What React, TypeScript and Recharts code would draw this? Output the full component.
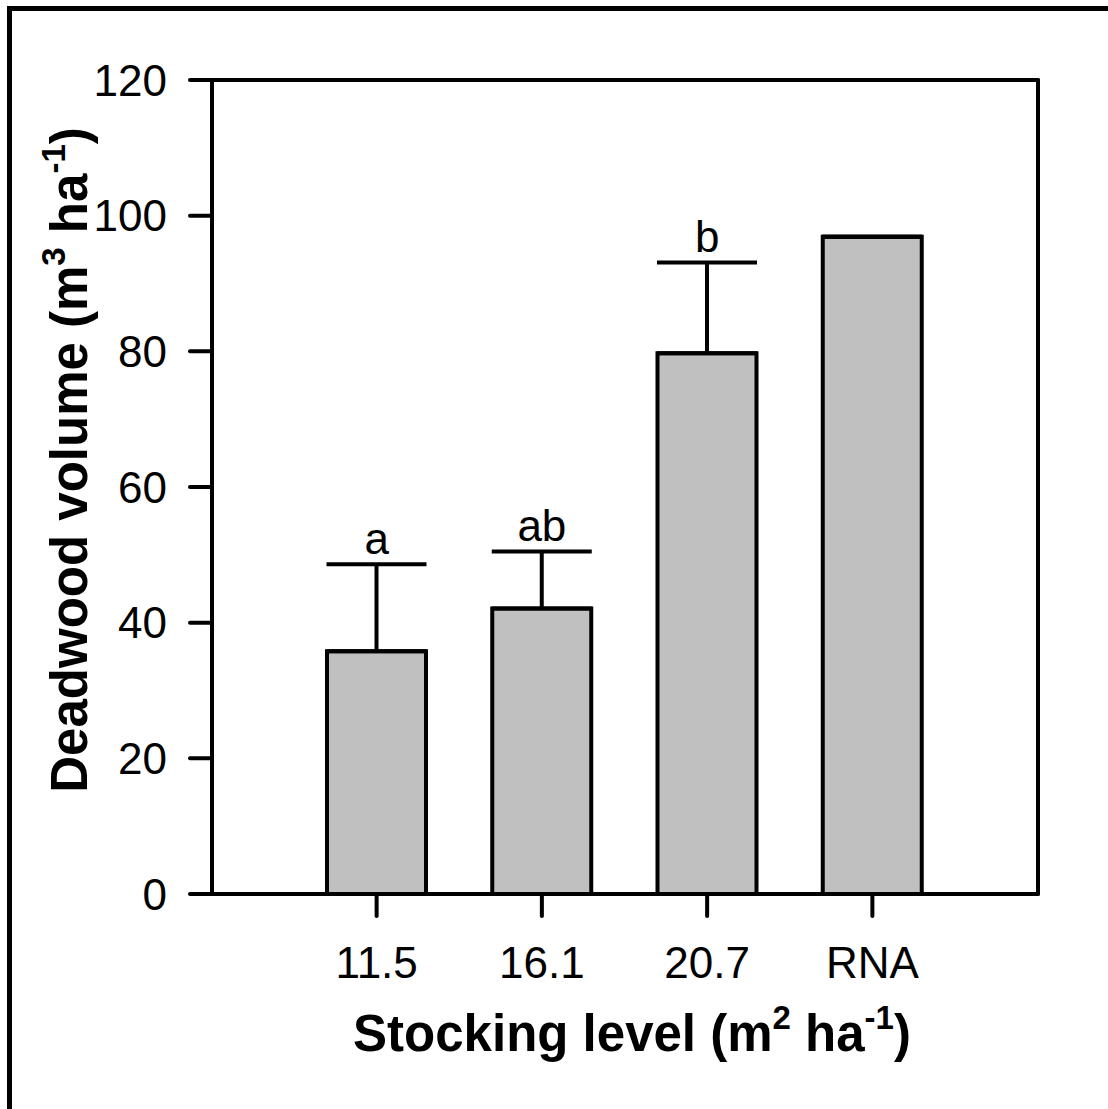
import React from 'react';
import {
    ComposedChart, Bar, Line, XAxis, YAxis, ErrorBar, LabelList,
} from 'recharts';

const categories = ['11.5', '16.1', '20.7', 'RNA'];
const deadwoodVolume = [35.8, 42.1, 79.7, 96.9];
const standardError = [12.8, 8.4, 13.4, 0];
const letters = ['a', 'ab', 'b', ''];
const yTicks = [0, 20, 40, 60, 80, 100, 120];

const data = categories.map((cat, i) => ({
    cat,
    volume: deadwoodVolume[i],
    err: [0, standardError[i]],
    top: deadwoodVolume[i] + standardError[i],
    letter: letters[i],
}));

const FONT = '"Liberation Sans", Arial, Helvetica, sans-serif';
const tickStyle = { fontSize: 44, fill: '#000', fontFamily: FONT };
const LINE = { stroke: '#000', strokeWidth: 4, strokeLinecap: 'round' as const };

// eslint-disable-next-line @typescript-eslint/no-explicit-any
function YTitle({ viewBox }: any) {
    const x = viewBox.x + 87;
    const y = viewBox.y + viewBox.height / 2 - 27;
    return (
        <text
            x={x} y={y} textAnchor="middle" transform={`rotate(-90, ${x}, ${y})`}
            fontFamily={FONT} fontWeight="bold" fontSize={51} fill="#000"
        >
            Deadwood volume (m<tspan fontSize={33} dy={-22}>3</tspan>
            <tspan dy={22}> ha</tspan><tspan fontSize={33} dy={-22}>-1</tspan>
            <tspan dy={22}>)</tspan>
        </text>
    );
}

// eslint-disable-next-line @typescript-eslint/no-explicit-any
function XTitle({ viewBox }: any) {
    const x = viewBox.x + viewBox.width / 2 + 7;
    const y = viewBox.y + 157;
    return (
        <text x={x} y={y} textAnchor="middle" fontFamily={FONT} fontWeight="bold" fontSize={51} fill="#000">
            Stocking level (m<tspan fontSize={33} dy={-22}>2</tspan>
            <tspan dy={22}> ha</tspan><tspan fontSize={33} dy={-22}>-1</tspan>
            <tspan dy={22}>)</tspan>
        </text>
    );
}

export default function App() {
    return (
        <div style={{ position: 'absolute', left: 0, top: 0, width: 1108, height: 1109, overflow: 'hidden', background: '#fff' }}>
            <div
                style={{
                    position: 'absolute', left: 7, top: 6, width: 1200, height: 1200,
                    border: '5px solid #000', pointerEvents: 'none',
                }}
            />
            <ComposedChart width={1108} height={1109} data={data} margin={{ top: 79, right: 69, bottom: 0, left: 0 }}>
                <XAxis
                    dataKey="cat"
                    height={215}
                    padding={{ left: 82, right: 83 }}
                    tick={tickStyle}
                    tickSize={22}
                    tickMargin={31}
                    tickLine={LINE}
                    axisLine={LINE}
                    label={{ content: XTitle }}
                />
                <XAxis
                    xAxisId="top"
                    orientation="top"
                    dataKey="cat"
                    height={1}
                    padding={{ left: 82, right: 83 }}
                    tick={false}
                    tickLine={false}
                    axisLine={LINE}
                />
                <YAxis
                    width={212}
                    domain={[0, 120]}
                    ticks={yTicks}
                    allowDataOverflow
                    tick={tickStyle}
                    tickSize={22}
                    tickMargin={23}
                    tickLine={LINE}
                    axisLine={LINE}
                    label={{ content: YTitle }}
                />
                <YAxis
                    yAxisId="right"
                    orientation="right"
                    width={1}
                    domain={[0, 120]}
                    allowDataOverflow
                    tick={false}
                    tickLine={false}
                    axisLine={LINE}
                />
                <Bar dataKey="volume" fill="#c0c0c0" stroke="#000" strokeWidth={4} barSize={99} isAnimationActive={false}>
                    <ErrorBar dataKey="err" direction="y" width={50} stroke="#000" strokeWidth={4} isAnimationActive={false} />
                </Bar>
                <Line
                    xAxisId="top" yAxisId="right"
                    dataKey="top" stroke="none" dot={false} activeDot={false}
                    legendType="none" isAnimationActive={false}
                >
                    <LabelList dataKey="letter" position="top" offset={10} fill="#000" fontSize={44} fontFamily={FONT} />
                </Line>
            </ComposedChart>
        </div>
    );
}
